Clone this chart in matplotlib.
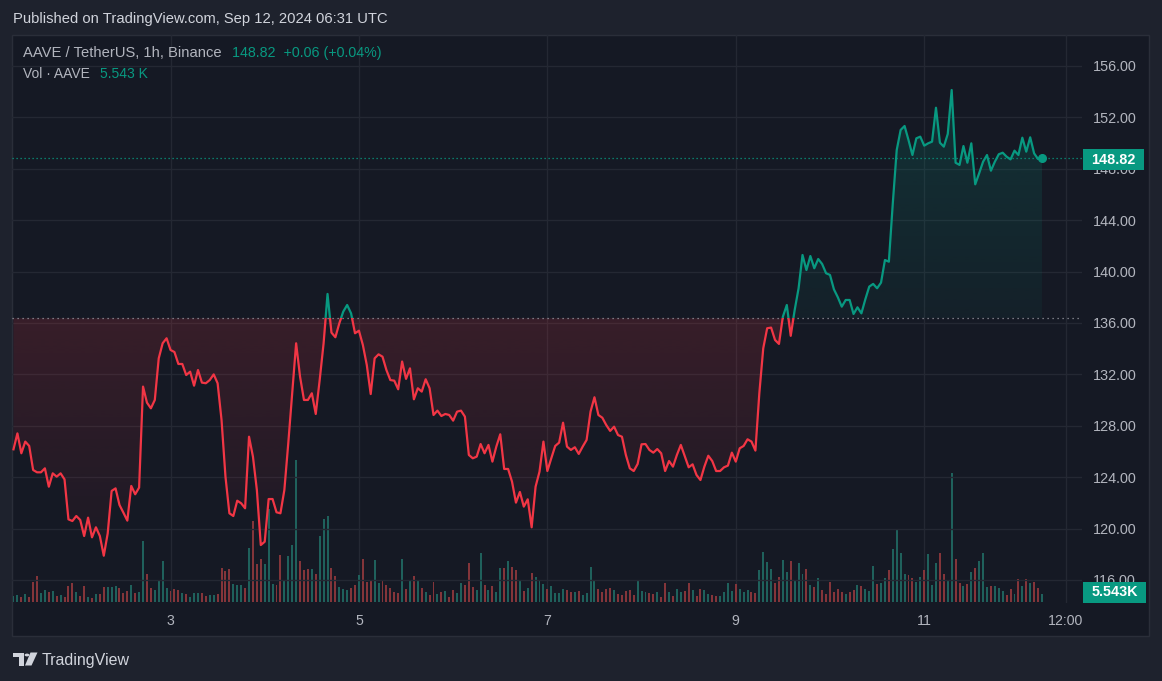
import numpy as np
import pandas as pd
import matplotlib
matplotlib.use("Agg")
from matplotlib import pyplot as plt
import matplotlib.dates as mdates
from matplotlib.patches import Rectangle, Polygon, Circle

plt.rcParams['font.family'] = ['Liberation Sans', 'DejaVu Sans']

# hourly closes, AAVE/USDT 1h, Sep 1 08:00 -> Sep 12 06:00 (UTC)
start = "2024-09-01 08:00"
price = [
    126.17, 127.41, 125.86, 126.77, 126.43, 124.56, 124.38, 124.38, 124.69, 123.26,
    124.30, 124.04, 124.30, 123.83, 120.72, 120.59, 120.98, 120.67, 119.42, 120.85,
    119.32, 120.10, 119.42, 117.89, 119.63, 122.93, 123.13, 121.84, 121.24, 120.62,
    123.32, 122.67, 123.19, 131.05, 129.80, 129.36, 130.01, 133.25, 134.42, 134.81,
    133.90, 133.74, 132.81, 132.81, 131.95, 132.21, 131.12, 132.34, 131.36, 131.31,
    131.56, 132.00, 131.31, 128.45, 124.04, 121.19, 120.98, 122.17, 121.97, 121.58,
    127.15, 125.60, 123.00, 118.72, 118.98, 122.30, 122.30, 121.27, 121.19, 123.00,
    126.64, 130.53, 134.42, 131.82, 130.01, 130.01, 130.53, 128.92, 131.56, 134.42,
    138.26, 135.25, 134.89, 135.97, 136.88, 137.40, 136.75, 135.20, 135.40, 134.29,
    132.73, 130.47, 133.25, 133.56, 133.38, 132.34, 131.56, 131.51, 130.84, 133.00,
    131.65, 132.47, 130.06, 130.92, 130.66, 131.62, 130.92, 128.84, 129.18, 128.76,
    128.92, 128.84, 128.40, 129.10, 129.18, 128.71, 125.73, 125.47, 125.60, 126.58,
    125.86, 126.51, 125.21, 126.38, 127.34, 124.64, 124.64, 123.65, 122.02, 122.85,
    121.71, 122.28, 120.10, 123.26, 124.43, 126.77, 124.48, 125.47, 126.43, 126.69,
    128.24, 126.38, 126.12, 126.33, 125.81, 126.38, 126.90, 129.10, 130.22, 128.84,
    128.63, 128.06, 127.60, 127.93, 127.28, 127.15, 125.73, 124.69, 124.48, 125.03,
    126.56, 126.58, 126.12, 125.91, 126.19, 125.86, 124.48, 125.26, 124.82, 125.73,
    126.51, 125.65, 124.77, 125.00, 124.17, 123.78, 124.82, 125.67, 125.26, 124.48,
    124.48, 124.77, 124.90, 125.91, 125.21, 126.25, 126.43, 126.95, 126.77, 126.07,
    130.53, 134.03, 135.59, 135.64, 134.68, 134.37, 136.49, 137.40, 135.00, 137.00,
    138.70, 141.29, 140.12, 141.21, 140.26, 140.98, 140.59, 139.87, 139.74, 138.62,
    138.00, 137.27, 137.79, 137.79, 136.70, 137.22, 136.75, 137.84, 138.83, 139.04,
    138.70, 139.14, 140.90, 140.77, 145.31, 149.46, 151.02, 151.33, 150.24, 149.07,
    150.37, 150.50, 149.80, 149.98, 150.11, 152.75, 150.03, 149.72, 150.71, 154.13,
    148.47, 148.30, 149.77, 148.47, 149.98, 146.79, 147.65, 148.55, 149.07, 147.85,
    148.55, 149.13, 149.25, 148.94, 148.73, 149.41, 149.07, 150.42, 149.33, 150.45,
    149.20, 148.76, 148.82,
]
# volume in thousands of AAVE
volume = [
    4.1, 4.8, 3.6, 5.5, 3.6, 14.2, 18.5, 6.3, 8.4, 7.0,
    7.7, 4.1, 4.8, 3.6, 11.3, 13.7, 7.0, 4.1, 11.3, 3.4,
    2.7, 5.5, 5.5, 10.6, 10.6, 10.6, 11.3, 9.9, 6.3, 7.7,
    12.0, 6.3, 7.0, 43.7, 19.9, 9.9, 8.4, 15.6, 29.3, 9.9,
    7.7, 9.1, 8.4, 6.3, 5.5, 3.4, 6.3, 6.3, 6.3, 4.1,
    4.8, 4.8, 5.5, 24.3, 22.1, 23.5, 12.7, 12.0, 12.0, 9.9,
    38.7, 58.1, 27.1, 30.7, 27.1, 66.5, 12.7, 12.0, 33.6, 15.6,
    32.9, 40.8, 102.0, 29.3, 22.8, 23.5, 23.5, 19.9, 47.3, 59.5,
    61.7, 24.3, 18.5, 10.6, 9.1, 8.4, 9.9, 12.0, 19.2, 30.7,
    14.2, 15.6, 30.0, 13.5, 15.6, 12.0, 9.9, 7.0, 6.3, 30.7,
    9.1, 14.9, 18.5, 15.6, 9.9, 7.0, 4.8, 14.2, 5.5, 7.0,
    7.7, 3.4, 8.4, 6.3, 13.5, 12.0, 27.9, 10.6, 8.4, 35.1,
    12.0, 8.4, 11.3, 7.0, 24.3, 24.3, 29.3, 25.0, 22.8, 14.9,
    7.7, 9.9, 20.7, 17.8, 14.9, 12.7, 9.1, 11.3, 6.3, 6.3,
    9.1, 8.4, 7.0, 7.0, 7.7, 4.8, 6.3, 25.0, 14.9, 9.1,
    7.0, 9.1, 9.9, 8.4, 5.5, 4.8, 7.7, 8.4, 4.8, 14.9,
    7.7, 7.0, 6.3, 5.5, 7.0, 3.4, 13.5, 7.0, 4.1, 9.1,
    7.0, 7.7, 13.5, 8.4, 4.3, 9.1, 8.4, 5.5, 4.8, 4.1,
    4.1, 7.0, 13.5, 7.7, 12.7, 9.1, 7.0, 8.4, 7.0, 6.3,
    22.8, 35.8, 28.6, 23.5, 13.5, 17.8, 30.0, 21.4, 29.3, 15.6,
    27.9, 19.9, 23.5, 12.0, 10.6, 17.1, 8.4, 5.5, 14.2, 7.0,
    9.1, 7.0, 5.5, 7.0, 8.4, 12.0, 11.3, 9.1, 7.7, 25.7,
    12.7, 13.5, 17.1, 22.8, 37.9, 51.6, 35.1, 19.9, 19.2, 17.1,
    14.2, 17.8, 22.8, 34.3, 12.0, 27.9, 35.1, 19.9, 15.6, 92.7,
    30.7, 13.5, 11.3, 12.7, 21.4, 24.3, 29.3, 35.1, 10.6, 11.3,
    11.3, 9.9, 7.7, 4.8, 9.1, 5.5, 16.3, 11.3, 16.3, 13.5,
    14.2, 9.9, 5.543,
]
# candle direction for each volume bar: u = up, d = down
vol_dir = "".join([
    "uududdduud", "ududdduddu", "dudduuuddd", "uduudduuuu", "ddduduuudd",
    "uudddduuud", "uddduuuddu", "uuuddduduu", "udduu",
    "udduddduud", "ddddududud", "uddududduu", "ddduududuu", "duddududuu",
    "uduuuuddud", "uuuuddddud", "dddduuuddu", "dduduudd",
    "udduudduuu", "uduuudduuu", "udduuduuud", "ududdddddu", "dduduuuduu",
    "duuuudduud", "uuudduuddu", "duduuuduuu", "ddudududdu",
])
baseline = 136.37
change = 0.06
change_pct = 0.04
y_ticks = [116, 120, 124, 128, 132, 136, 140, 144, 148, 152, 156]
x_tick_times = ["2024-09-03 00:00", "2024-09-05 00:00", "2024-09-07 00:00",
                "2024-09-09 00:00", "2024-09-11 00:00", "2024-09-12 12:00"]
x_tick_labels = ["3", "5", "7", "9", "11", "12:00"]

OUTER = '#1e222d'
PANEL = '#151924'
BORDER = '#2a2e39'
GRID = '#242833'
TEAL = '#089981'
RED = '#f23645'
TEAL_V = '#1f615c'
RED_V = '#84353a'
TXT = '#d1d4dc'
TICK = '#b2b5be'

W, H = 1162, 681
fig = plt.figure(figsize=(W / 100, H / 100), dpi=100, facecolor=OUTER)


def P(x, y):
    return (x / W, 1 - y / H)


# chart panel
x0, y0 = P(12, 636)
x1, y1 = P(1149, 35)
fig.add_artist(Rectangle((x0, y0), x1 - x0, y1 - y0, transform=fig.transFigure,
                         facecolor=PANEL, edgecolor=BORDER, lw=1, zorder=-1))

l, b = P(12, 603)
r, t = P(1082, 35)
ax_v = fig.add_axes([l, b, r - l, t - b])
ax = ax_v.twinx()
ax.set_zorder(ax_v.get_zorder() + 1)
ax.patch.set_visible(False)
ax_v.set_facecolor('none')

times = pd.date_range(start, periods=len(price), freq='h')
xs = mdates.date2num(times)
pr = np.array(price)

# volume bars
colors = [TEAL_V if d == 'u' else RED_V for d in vol_dir]
ax_v.bar(xs, volume, width=0.5 / 24, color=colors, zorder=2)
ax_v.set_ylim(-0.94, 408)
ax_v.set_yticks([])


# baseline gradient fills
def gradient_fill(y_top, y_bot, color, a_lo, a_hi, lo, hi):
    coll = ax.fill_between(xs, y_top, y_bot, facecolor='none', edgecolor='none')
    rgb = matplotlib.colors.to_rgb(color)
    img = np.zeros((256, 1, 4))
    img[..., :3] = rgb
    img[:, 0, 3] = np.linspace(a_lo, a_hi, 256)
    im = ax.imshow(img, aspect='auto', origin='lower', extent=[xs[0], xs[-1], lo, hi],
                   zorder=2, interpolation='bilinear')
    im.set_clip_path(coll.get_paths()[0], ax.transData)


gradient_fill(np.maximum(pr, baseline), baseline, TEAL, 0.06, 0.2, baseline, pr.max())
gradient_fill(baseline, np.minimum(pr, baseline), RED, 0.03, 0.16, pr.min(), baseline)

# price line, teal above baseline and red below
for color, lo, hi in [(TEAL, baseline, 300), (RED, 0, baseline)]:
    ln, = ax.plot(xs, pr, color=color, lw=1.6, solid_joinstyle='round', zorder=4)
    ln.set_clip_path(Rectangle((xs[0] - 5, lo), xs[-1] - xs[0] + 10, hi - lo,
                               transform=ax.transData))

ax.axhline(baseline, color='#9598a1', lw=0.9, ls=(0, (1, 3)), zorder=3)
ax.axhline(price[-1], color=TEAL, lw=0.9, ls=(0, (1, 2.2)), zorder=3)
ax.plot(xs[-1], price[-1], 'o', ms=5.5, color=TEAL, zorder=5)

# axes, ticks, grid
t_lo = pd.Timestamp(start) - pd.Timedelta(hours=0.38)
t_hi = pd.Timestamp(start) + pd.Timedelta(hours=272.2)
ax_v.set_xlim(mdates.date2num(t_lo), mdates.date2num(t_hi))
ax.set_ylim(114.21, 158.41)

ax.set_yticks(y_ticks)
ax.set_yticklabels([f"{v:.2f}" for v in y_ticks])
ax.tick_params(axis='y', length=0, pad=8, labelsize=10.4, colors=TICK)
ax.grid(True, axis='y', color=GRID, lw=1)
ax.set_axisbelow(True)

ax_v.set_xticks(mdates.date2num(pd.to_datetime(x_tick_times)))
ax_v.set_xticklabels(x_tick_labels)
ax_v.tick_params(axis='x', length=0, pad=8, labelsize=10.2, colors=TICK)
ax_v.grid(True, axis='x', color=GRID, lw=1)
ax_v.set_axisbelow(True)

for a in (ax, ax_v):
    for s in a.spines.values():
        s.set_visible(False)

# last value labels on the price scale
for label, yc, x_right in [(f"{price[-1]:.2f}", 159.5, 1144), (f"{volume[-1]:.3f}K", 592, 1146)]:
    bx, by = P(1083, yc + 10.5)
    bx2, by2 = P(x_right, yc - 10.5)
    fig.add_artist(Rectangle((bx, by), bx2 - bx, by2 - by, transform=fig.transFigure,
                             facecolor=TEAL, edgecolor='none', zorder=5))
    fig.text(*P((1083 + x_right) / 2, yc), label, ha='center', va='center',
             color='white', fontsize=10.4, fontweight='bold', zorder=6)

# header and legend
fig.text(*P(13, 19), "Published on TradingView.com, Sep 12, 2024 06:31 UTC",
         ha='left', va='center', color=TXT, fontsize=10.6)
fig.text(*P(23, 53), "AAVE / TetherUS, 1h, Binance", ha='left', va='center',
         color=TICK, fontsize=10.6)
fig.text(*P(232, 53), f"{price[-1]:.2f}  +{change:.2f} (+{change_pct:.2f}%)",
         ha='left', va='center', color=TEAL, fontsize=10.3)
fig.text(*P(23, 74), "Vol \u00b7 AAVE", ha='left', va='center', color=TICK, fontsize=10)
fig.text(*P(100, 74), f"{volume[-1]:.3f} K", ha='left',
         va='center', color=TEAL, fontsize=10)

# TradingView logo
logo = [
    [(13.3, 652.5), (23.8, 652.5), (23.8, 665.5), (19.0, 665.5), (19.0, 657.2), (13.3, 657.2)],
    [(30.5, 652.5), (37.5, 652.5), (31.5, 665.5), (25.0, 665.5)],
]
for pts in logo:
    fig.add_artist(Polygon([P(*p) for p in pts], closed=True, transform=fig.transFigure,
                           facecolor=TXT, edgecolor='none'))
cx, cy = P(27.0, 655.0)
fig.add_artist(Circle((cx, cy), 2.4 / W, transform=fig.transFigure, facecolor=TXT,
                      edgecolor='none'))
fig.text(*P(42, 660), "TradingView", ha='left', va='center', color=TXT, fontsize=11.5)

fig.savefig("out.png", dpi=100, facecolor=OUTER)
